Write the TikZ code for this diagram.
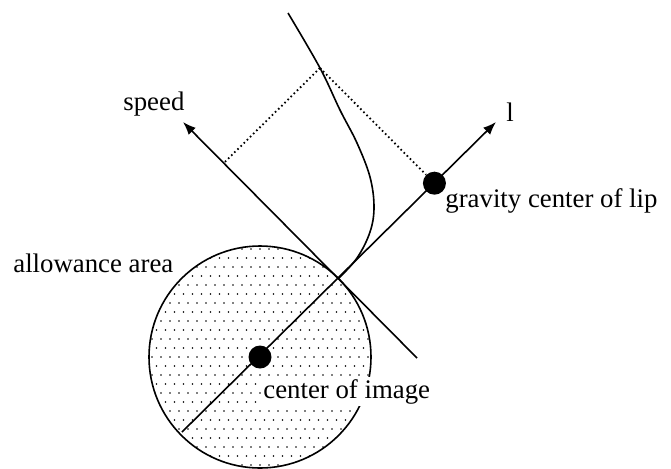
\documentclass[tikz,border=0pt]{standalone}
\usepackage{fontspec}
\setmainfont{Liberation Serif}
\usetikzlibrary{arrows.meta,calc}

\begin{document}
\begin{tikzpicture}[x=0.5pt, y=-0.5pt, >={Latex[length=6.5pt,width=5pt]},
  font=\fontsize{13.4}{16}\selectfont,
  axis/.style={->, line width=0.8pt},
  contour/.style={line width=0.8pt},
  proj/.style={line width=0.9pt, dash pattern=on 0.8pt off 1.4pt},
  blob/.style={circle, fill=black, inner sep=0pt, minimum size=11.5pt},
  lbl/.style={inner sep=0pt, anchor=base west}]
  \useasboundingbox (0,0) rectangle (671,468);
  % touching point and axis ends
  \coordinate (P) at (338,279);
  \coordinate (S) at (183,122);
  \coordinate (Send) at (417,358);
  \coordinate (L) at (496,122);
  \coordinate (Lend) at (182,432);
  \coordinate (T) at (320,68);
  \coordinate (O) at (260,357);
  % allowance area
  \begin{scope}
    \clip (O) circle (55.5pt);
    \foreach \i in {-13,...,13}
      \foreach \j in {-13,...,13}
        \fill[shift={(O)}] ({\i*9+4.5*mod(\j,2)},{\j*9}) circle (0.45pt);
  \end{scope}
  \draw[contour] (O) circle (55.5pt);
  \node[lbl, fill=white, inner sep=1pt] (cimglbl) at (261,398) {center of image};
  % axes and lip contour
  \draw[axis] (Lend) -- (L);
  \draw[axis] (Send) -- (S);
  \draw[contour] plot[smooth, tension=0.6] coordinates {(288,13) (T) (340,110) (357,143) (370,177) (374,207) (370,232) (357,258) (P)};
  \node[blob] (cimg) at (O) {};
  \node[blob] (glip) at ($(P)!(T)!(L)$) {};
  \coordinate (F) at ($(P)!(T)!(S)$);
  \draw[proj] (T) -- (F);
  \draw[proj] (T) -- (glip);
  % labels
  \node[lbl] (speedlbl) at (123,110) {speed};
  \node[lbl] (llbl) at (506,121) {l};
  \node[lbl] (glipdlbl) at (445,207) {gravity center of lip};
  \node[lbl] (arealbl) at (13,272) {allowance area};
\end{tikzpicture}
\end{document}
